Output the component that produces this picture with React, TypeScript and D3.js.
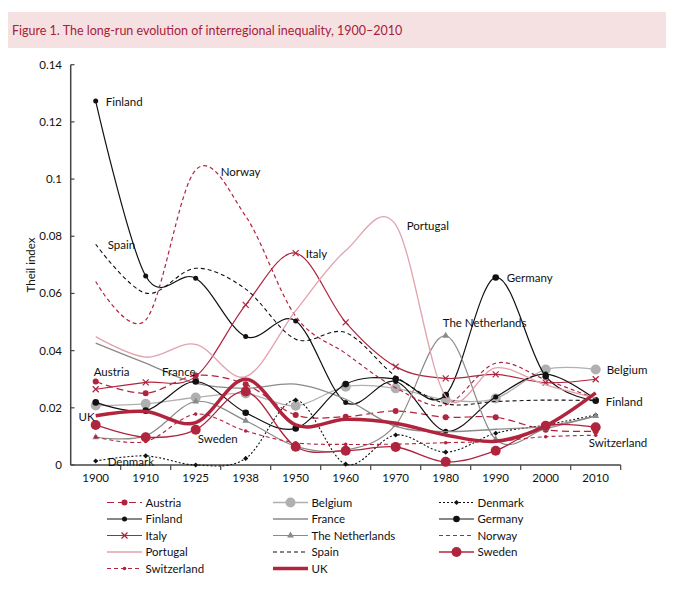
import React from "react";
import * as d3 from "d3";

// census years, evenly spaced on the axis
const years = ["1900", "1910", "1925", "1938", "1950", "1960", "1970", "1980", "1990", "2000", "2010"];
const yTicks = [0, 0.02, 0.04, 0.06, 0.08, 0.1, 0.12, 0.14];

const austria = [0.0292, 0.0251, 0.0313, 0.0282, 0.0175, 0.0169, 0.0189, 0.0167, 0.0167, 0.0123, 0.0118];
const belgium = [0.0208, 0.0214, 0.0236, 0.025, 0.0207, 0.0274, 0.0268, 0.0228, 0.0233, 0.0334, 0.0334];
const denmark = [0.0014, 0.0032, 0.0, 0.0023, 0.0227, 0.0003, 0.0105, 0.0045, 0.0111, 0.014, 0.0175];
const finland = [0.1273, 0.0661, 0.0653, 0.0449, 0.0504, 0.0219, 0.0292, 0.0118, 0.0238, 0.0318, 0.0229];
const france = [0.0426, 0.0356, 0.0286, 0.0268, 0.0283, 0.023, 0.0135, 0.0117, 0.0125, 0.0135, 0.0172];
const germany = [0.0219, 0.019, 0.0292, 0.0183, 0.0128, 0.0283, 0.0301, 0.0245, 0.0656, 0.031, 0.0225];
const italy = [0.0265, 0.0289, 0.031, 0.056, 0.0741, 0.0499, 0.0344, 0.0303, 0.0317, 0.0288, 0.03];
const netherlands = [0.0097, 0.0102, 0.0222, 0.0155, 0.0065, 0.0052, 0.014, 0.0452, 0.009, 0.0127, 0.0171];
const norway = [0.0642, 0.0507, 0.1032, 0.087, 0.052, 0.039, 0.027, 0.021, 0.0356, 0.0298, 0.0232];
const portugal = [0.0449, 0.0377, 0.0422, 0.0309, 0.054, 0.075, 0.084, 0.024, 0.034, 0.028, 0.0234];
const spain = [0.0772, 0.0601, 0.0688, 0.0615, 0.044, 0.0463, 0.031, 0.0215, 0.0222, 0.0227, 0.0225];
const sweden = [0.014, 0.0097, 0.0123, 0.0257, 0.0064, 0.005, 0.0063, 0.0011, 0.005, 0.0137, 0.0132];
const switzerland = [0.0098, 0.0082, 0.0178, 0.0119, 0.0078, 0.0072, 0.0073, 0.0078, 0.0083, 0.0099, 0.0104];
const uk = [0.0172, 0.0187, 0.0148, 0.03, 0.014, 0.016, 0.0146, 0.0105, 0.0083, 0.0137, 0.0252];

const RED = "#b0243e";
const PINK = "#e2a2ad";
const LGRAY = "#b0b0b0";
const MGRAY = "#8a8a8a";
const BLACK = "#111";
const FONT = "Lato, 'Open Sans', sans-serif";

const series = [
  { name: "Austria", values: austria, color: RED, dash: "7,4", marker: "dot", r: 3, w: 1.2 },
  { name: "Belgium", values: belgium, color: LGRAY, dash: null, marker: "dot", r: 5, w: 1.3 },
  { name: "Denmark", values: denmark, color: BLACK, dash: "2,2", marker: "diamond", r: 3.5, w: 1.1 },
  { name: "Finland", values: finland, color: BLACK, dash: null, marker: "dot", r: 2.5, w: 1.2 },
  { name: "France", values: france, color: MGRAY, dash: null, marker: null, r: 0, w: 1.3 },
  { name: "Germany", values: germany, color: BLACK, dash: null, marker: "dot", r: 3.3, w: 1.2 },
  { name: "Italy", values: italy, color: RED, dash: null, marker: "cross", r: 3, w: 1.2 },
  { name: "The Netherlands", values: netherlands, color: MGRAY, dash: null, marker: "triangle", r: 3, w: 1.2 },
  { name: "Norway", values: norway, color: RED, dash: "4,3", marker: null, r: 0, w: 1.2 },
  { name: "Portugal", values: portugal, color: PINK, dash: null, marker: null, r: 0, w: 1.3 },
  { name: "Spain", values: spain, color: BLACK, dash: "4,3", marker: null, r: 0, w: 1.1 },
  { name: "Sweden", values: sweden, color: RED, dash: null, marker: "dot", r: 5, w: 1.3 },
  { name: "Switzerland", values: switzerland, color: RED, dash: "4,3", marker: "dot", r: 1.8, w: 1.1 },
  { name: "UK", values: uk, color: RED, dash: null, marker: null, r: 0, w: 3.5 },
];

// in-plot labels: series, year index, offset
const labels = [
  { name: "Finland", i: 0, dx: 10, dy: 1, anchor: "start" },
  { name: "Spain", i: 0, dx: 12, dy: 1, anchor: "start" },
  { name: "Norway", i: 2, dx: 25, dy: 2, anchor: "start" },
  { name: "Italy", i: 4, dx: 10, dy: 1, anchor: "start" },
  { name: "Portugal", i: 6, dx: 11, dy: 1, anchor: "start" },
  { name: "Germany", i: 8, dx: 11, dy: 1, anchor: "start" },
  { name: "The Netherlands", i: 7, dx: -3, dy: -13, anchor: "start" },
  { name: "Belgium", i: 10, dx: 11, dy: 0, anchor: "start" },
  { name: "Finland", i: 10, dx: 10, dy: 2, anchor: "start" },
  { name: "Switzerland", i: 10, dx: -7, dy: 8, anchor: "start" },
  { name: "Austria", i: 0, dx: -2, dy: -10, anchor: "start" },
  { name: "France", i: 2, dx: 0, dy: -11, anchor: "end" },
  { name: "UK", i: 0, dx: -1, dy: 1, anchor: "end" },
  { name: "Sweden", i: 2, dx: 2, dy: 9, anchor: "start" },
  { name: "Denmark", i: 0, dx: 12, dy: 1, anchor: "start" },
];

const x = d3.scaleBand().domain(years).range([70.7, 620.7]);
const y = d3.scaleLinear().domain([0, 0.14]).range([465, 64.7]);
const cx = (i: number) => (x(years[i]) as number) + x.bandwidth() / 2;

const line = d3
  .line<number>()
  .x((_, i) => cx(i))
  .y((d) => y(d))
  .curve(d3.curveCardinal.tension(0));

function Marker({ s, px, py }: any) {
  if (!s.marker) return null;
  if (s.marker === "dot") return <circle cx={px} cy={py} r={s.r} fill={s.color} />;
  if (s.marker === "cross") {
    const k = s.r;
    return (
      <g stroke={s.color} strokeWidth={1.2}>
        <line x1={px - k} y1={py - k} x2={px + k} y2={py + k} />
        <line x1={px - k} y1={py + k} x2={px + k} y2={py - k} />
      </g>
    );
  }
  if (s.marker === "diamond") {
    return (
      <path d={d3.symbol(d3.symbolSquare, 13)() as string} transform={`translate(${px},${py}) rotate(45)`} fill={s.color} />
    );
  }
  return <path d={d3.symbol(d3.symbolTriangle, 20)() as string} transform={`translate(${px},${py})`} fill={s.color} />;
}

const legendCols = [107, 273, 439];
const legendRows = [502.5, 519, 535.5, 552, 568.5];

export default function App() {
  return (
    <svg width={680} height={596} style={{ position: "absolute", left: 0, top: 0, background: "#fff" }} fontFamily={FONT}>
      {/* title band */}
      <rect x={8} y={12} width={658} height={36} fill="#f5e1e1" />
      <text x={12} y={34.5} fontSize={12.5} fill="#a8203a">
        Figure 1. The long-run evolution of interregional inequality, 1900–2010
      </text>

      {/* axes */}
      <line x1={70.7} x2={70.7} y1={64.7} y2={465} stroke="#444" strokeWidth={1.5} />
      <line x1={70.7} x2={620.7} y1={465} y2={465} stroke="#444" strokeWidth={1.5} />
      {yTicks.map((t) => (
        <g key={t}>
          <line x1={70.7} x2={74.5} y1={y(t)} y2={y(t)} stroke="#444" strokeWidth={1.2} />
          <text x={62} y={y(t)} dy="0.35em" textAnchor="end" fontSize={11.5} fill="#111">
            {String(t)}
          </text>
        </g>
      ))}
      {years.map((yr, i) => (
        <g key={yr}>
          <line x1={x(yr)! + x.bandwidth()} x2={x(yr)! + x.bandwidth()} y1={465} y2={470} stroke="#444" strokeWidth={1.2} />
          <text x={cx(i)} y={478} dy="0.35em" textAnchor="middle" fontSize={11.5} fill="#111">
            {yr}
          </text>
        </g>
      ))}
      <text transform="translate(31,265) rotate(-90)" textAnchor="middle" dy="0.35em" fontSize={11.5} fill="#111">
        Theil index
      </text>

      {/* series */}
      {series.map((s) => (
        <g key={s.name}>
          <path d={line(s.values) as string} fill="none" stroke={s.color} strokeWidth={s.w} strokeDasharray={s.dash || undefined} />
          {s.values.map((v, i) => (
            <Marker key={i} s={s} px={cx(i)} py={y(v)} />
          ))}
        </g>
      ))}

      {/* labels in the plot */}
      {labels.map((l, k) => {
        const s = series.find((d) => d.name === l.name)!;
        return (
          <text key={k} x={cx(l.i) + l.dx} y={y(s.values[l.i]) + l.dy} dy="0.35em" textAnchor={l.anchor} fontSize={11.5} fill="#111">
            {l.name}
          </text>
        );
      })}

      {/* legend */}
      {series.map((s, k) => {
        const lx = legendCols[k % 3];
        const ly = legendRows[Math.floor(k / 3)];
        return (
          <g key={s.name}>
            <line x1={lx} x2={lx + 35} y1={ly} y2={ly} stroke={s.color} strokeWidth={s.w} strokeDasharray={s.dash || undefined} />
            <Marker s={s} px={lx + 17.5} py={ly} />
            <text x={lx + 38.5} y={ly} dy="0.35em" fontSize={11.5} fill="#111">
              {s.name}
            </text>
          </g>
        );
      })}
    </svg>
  );
}
